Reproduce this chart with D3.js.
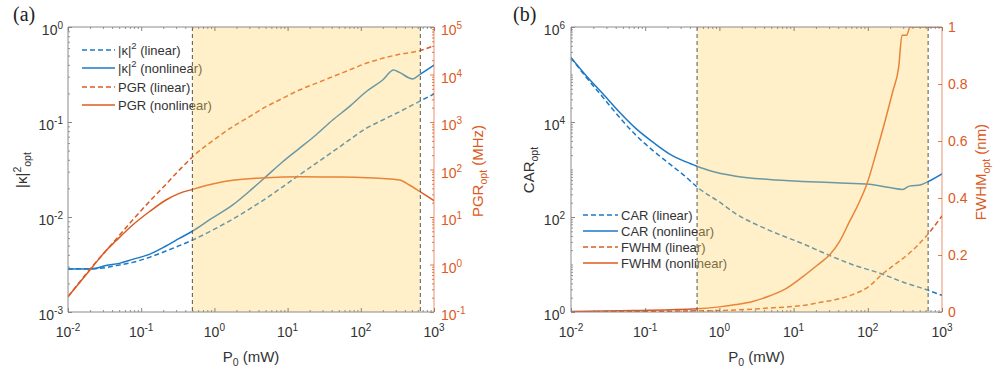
<!DOCTYPE html>
<html lang="en">
<head>
<meta charset="utf-8">
<title>Optimal coupling, PGR, CAR and FWHM vs pump power</title>
<script src="https://cdn.jsdelivr.net/npm/d3@7"></script>
<style>
    body { margin: 0; background: #fff; }
    text { font-family: "Liberation Sans", Arial, sans-serif; }
    text.panel { font-family: "Liberation Serif", "Times New Roman", serif; }
</style>
</head>
<body>
<script>
// ---------- panel (a) data, P0 in mW ----------
var kapLinP = [0.01, 0.0268, 0.0453, 0.0764, 0.129, 0.218, 0.332, 0.505, 1.05, 1.78, 3.0, 5.07, 8.57, 14.5, 24.4, 41.3, 69.7, 118, 199, 336, 644, 1000];
var kapLin  = [0.00284, 0.00288, 0.00308, 0.00333, 0.00376, 0.00438, 0.00499, 0.00573, 0.0076, 0.0095, 0.0121, 0.0157, 0.0208, 0.0277, 0.0367, 0.0487, 0.0647, 0.0858, 0.105, 0.128, 0.166, 0.197];

var kapNlP = [0.01, 0.0217, 0.033, 0.0502, 0.0764, 0.129, 0.218, 0.332, 0.505, 0.853, 1.78, 3.33, 5.07, 8.57, 14.5, 24.4, 41.3, 69.7, 118, 199, 281, 336, 511, 644, 1000];
var kapNl  = [0.00284, 0.00284, 0.00308, 0.00325, 0.00358, 0.00404, 0.00495, 0.00596, 0.00712, 0.0093, 0.0134, 0.0200, 0.0266, 0.0382, 0.0528, 0.0730, 0.105, 0.145, 0.208, 0.277, 0.352, 0.333, 0.284, 0.318, 0.398];

var pgrLinP = [0.01, 0.0217, 0.0367, 0.0764, 0.129, 0.218, 0.332, 0.505, 1.05, 1.78, 3.0, 5.07, 8.57, 14.5, 24.4, 41.3, 69.7, 118, 199, 336, 644, 1000];
var pgrLin  = [0.21, 0.93, 2.34, 8.65, 21.0, 48.8, 97.5, 186, 453, 798, 1290, 2100, 3150, 4720, 6520, 9000, 12400, 17200, 21900, 26600, 31800, 40500];

var pgrNlP = [0.01, 0.0217, 0.033, 0.0453, 0.0764, 0.129, 0.218, 0.332, 0.505, 1.05, 1.78, 5.07, 14.5, 41.3, 118, 336, 460, 644, 1000];
var pgrNl  = [0.21, 0.9, 1.95, 3.16, 6.79, 12.9, 22.8, 31.5, 38.2, 51.2, 59.2, 67.3, 70.6, 69.5, 67.3, 60.1, 47.2, 34.1, 22.1];

// ---------- panel (b) data ----------
var carLinP = [0.01, 0.0159, 0.0267, 0.0448, 0.0752, 0.126, 0.211, 0.355, 0.499, 0.998, 1.67, 4.71, 13.2, 30.3, 62.5, 151, 295, 655, 1000];
var carLin  = [226000, 88500, 33600, 12700, 5240, 2535, 1327, 695, 429, 207, 117, 52.4, 27.5, 15.6, 9.9, 6.41, 4.29, 2.86, 2.24];

var carNlP = [0.01, 0.0159, 0.0267, 0.0448, 0.0752, 0.126, 0.211, 0.355, 0.499, 0.731, 1.67, 4.71, 13.2, 37.2, 105, 195, 295, 363, 521, 655, 1000];
var carNl  = [226000, 95500, 39800, 16200, 7240, 3800, 2140, 1445, 1175, 955, 724, 617, 562, 525, 490, 417, 380, 447, 479, 562, 813];

var fwhmLinP = [0.01, 0.499, 1.67, 4.71, 13.2, 22.2, 37.2, 62.5, 105, 151, 216, 295, 447, 655, 1000];
var fwhmLin  = [0.001, 0.004, 0.007, 0.014, 0.023, 0.033, 0.044, 0.061, 0.091, 0.129, 0.161, 0.187, 0.228, 0.275, 0.337];

var fwhmNlP = [0.01, 0.0752, 0.499, 0.998, 1.67, 2.81, 4.71, 7.91, 13.2, 22.2, 30.3, 41.3, 56.4, 76.9, 97.5, 129, 172, 216, 261, 289, 334, 371, 1000];
var fwhmNl  = [0.002, 0.005, 0.011, 0.018, 0.026, 0.037, 0.056, 0.082, 0.123, 0.170, 0.199, 0.246, 0.316, 0.386, 0.450, 0.556, 0.673, 0.772, 0.860, 0.971, 0.971, 1.0, 1.0];

// shaded power window (mW)
var shadeP = [0.5, 650];

// tick labels
var xExp = [-2, -1, 0, 1, 2, 3];
var kapExp = [-3, -2, -1, 0];
var pgrExp = [-1, 0, 1, 2, 3, 4, 5];
var carExp = [0, 2, 4, 6];
var fwhmTicks = [0, 0.2, 0.4, 0.6, 0.8, 1];

var blue = "#1c79c6", orange = "#dc5a22", shadeCol = "#ffd465", txt = "#333", frameCol = "#8a8a8a";

var svg = d3.select("body").append("svg")
    .attr("width", 996)
    .attr("height", 372);

var pa = {l: 68, r: 434, t: 27, b: 312};
var pb = {l: 571, r: 942, t: 27, b: 312};

var xA = d3.scaleLog().domain([1e-2, 1e3]).range([pa.l, pa.r]);
var yA = d3.scaleLog().domain([1e-3, 1]).range([pa.b, pa.t]);
var yA2 = d3.scaleLog().domain([1e-1, 1e5]).range([pa.b, pa.t]);

var xB = d3.scaleLog().domain([1e-2, 1e3]).range([pb.l, pb.r]);
var yB = d3.scaleLog().domain([1, 1e6]).range([pb.b, pb.t]);
var yB2 = d3.scaleLinear().domain([0, 1]).range([pb.b, pb.t]);

function minorLog(lo, hi) {
    var v = [];
    for (var e = lo; e < hi; e++)
        for (var m = 2; m <= 9; m++) v.push(m * Math.pow(10, e));
    return v;
}

// superscript label like 10^-2
function powText(g, x, y, exp, anchor, color) {
    var t = g.append("text")
        .attr("x", x).attr("y", y)
        .attr("text-anchor", anchor)
        .attr("font-size", 14)
        .attr("fill", color);
    t.append("tspan").text("10");
    t.append("tspan").attr("dy", -6).attr("font-size", 10).text(exp);
    return t;
}

function ticks(g, axisFn, scale, values, size, color, tr) {
    g.append("g")
        .attr("transform", tr)
        .call(axisFn(scale).tickValues(values).tickSize(-size).tickFormat(""))
        .call(function(s) {
            s.select(".domain").remove();
            s.selectAll("text").remove();
            s.selectAll("line").attr("stroke", color).attr("stroke-width", 0.8);
        });
}

function addLine(g, x, y, P, V, color, dashed) {
    var line = d3.line()
        .x(function(d) { return x(d[0]); })
        .y(function(d) { return y(d[1]); })
        .curve(d3.curveMonotoneX);
    g.append("path")
        .datum(d3.zip(P, V))
        .attr("d", line)
        .attr("fill", "none")
        .attr("stroke", color)
        .attr("stroke-width", 1.5)
        .attr("stroke-dasharray", dashed ? "5,3" : null);
}

function legendRow(g, x1, x2, y, color, dashed, label, sup) {
    g.append("line")
        .attr("x1", x1).attr("x2", x2).attr("y1", y).attr("y2", y)
        .attr("stroke", color).attr("stroke-width", 1.5)
        .attr("stroke-dasharray", dashed ? "5,3" : null);
    var t = g.append("text")
        .attr("x", x2 + 3).attr("y", y + 4.5)
        .attr("font-size", 13).attr("fill", txt);
    if (sup) {
        t.append("tspan").text("|\u03BA|");
        t.append("tspan").attr("dy", -6).attr("font-size", 9.5).text("2");
        t.append("tspan").attr("dy", 6).text(" " + label);
    } else {
        t.text(label);
    }
}

function panel(p, id) {
    var g = svg.append("g");
    svg.append("clipPath").attr("id", id)
        .append("rect").attr("x", p.l).attr("y", p.t)
        .attr("width", p.r - p.l).attr("height", p.b - p.t);
    return g;
}

// ================= panel (a) =================
var gA = panel(pa, "clipA");
var linesA = gA.append("g").attr("clip-path", "url(#clipA)");
addLine(linesA, xA, yA, kapLinP, kapLin, blue, true);
addLine(linesA, xA, yA, kapNlP, kapNl, blue, false);
addLine(linesA, xA, yA2, pgrLinP, pgrLin, orange, true);
addLine(linesA, xA, yA2, pgrNlP, pgrNl, orange, false);

legendRow(gA, 82, 115, 50, blue, true, "(linear)", true);
legendRow(gA, 82, 115, 68, blue, false, "(nonlinear)", true);
legendRow(gA, 82, 115, 87, orange, true, "PGR (linear)", false);
legendRow(gA, 82, 115, 105, orange, false, "PGR (nonlinear)", false);

// shaded window drawn over the curves
gA.append("rect")
    .attr("x", xA(shadeP[0])).attr("y", pa.t)
    .attr("width", xA(shadeP[1]) - xA(shadeP[0]))
    .attr("height", pa.b - pa.t)
    .attr("fill", shadeCol).attr("fill-opacity", 0.35);
shadeP.forEach(function(v) {
    gA.append("line")
        .attr("x1", xA(v)).attr("x2", xA(v)).attr("y1", pa.t).attr("y2", pa.b)
        .attr("stroke", "#555").attr("stroke-width", 1).attr("stroke-dasharray", "4,3");
});

// ticks
ticks(gA, d3.axisBottom, xA, xExp.map(function(e) { return Math.pow(10, e); }), 4, "#666", "translate(0," + pa.b + ")");
ticks(gA, d3.axisBottom, xA, minorLog(-2, 3), 2, "#777", "translate(0," + pa.b + ")");
ticks(gA, d3.axisTop, xA, xExp.map(function(e) { return Math.pow(10, e); }), 4, "#666", "translate(0," + pa.t + ")");
ticks(gA, d3.axisTop, xA, minorLog(-2, 3), 2, "#777", "translate(0," + pa.t + ")");
ticks(gA, d3.axisLeft, yA, kapExp.map(function(e) { return Math.pow(10, e); }), 4, "#666", "translate(" + pa.l + ",0)");
ticks(gA, d3.axisLeft, yA, minorLog(-3, 0), 2, "#777", "translate(" + pa.l + ",0)");
ticks(gA, d3.axisRight, yA2, pgrExp.map(function(e) { return Math.pow(10, e); }), 4, orange, "translate(" + pa.r + ",0)");
ticks(gA, d3.axisRight, yA2, minorLog(-1, 5), 2, orange, "translate(" + pa.r + ",0)");

// frame
gA.append("path")
    .attr("d", "M" + pa.r + "," + pa.t + "H" + pa.l + "V" + pa.b + "H" + pa.r)
    .attr("fill", "none").attr("stroke", frameCol).attr("stroke-width", 1);
gA.append("line")
    .attr("x1", pa.r).attr("x2", pa.r).attr("y1", pa.t).attr("y2", pa.b)
    .attr("stroke", orange).attr("stroke-opacity", 0.55).attr("stroke-width", 1.2);

// tick labels
xExp.forEach(function(e) { powText(gA, xA(Math.pow(10, e)), pa.b + 25, e, "middle", txt); });
kapExp.forEach(function(e) { powText(gA, pa.l - 5, yA(Math.pow(10, e)) + 8, e, "end", txt); });
pgrExp.forEach(function(e) { powText(gA, pa.r + 7, yA2(Math.pow(10, e)) + 8, e, "start", orange); });

// axis titles
var xtA = gA.append("text")
    .attr("x", (pa.l + pa.r) / 2).attr("y", 362)
    .attr("text-anchor", "middle").attr("font-size", 15).attr("fill", txt);
xtA.append("tspan").text("P");
xtA.append("tspan").attr("dy", 4).attr("font-size", 10.5).text("0");
xtA.append("tspan").attr("dy", -4).text(" (mW)");

var ytA = gA.append("text")
    .attr("transform", "translate(27,170) rotate(-90)")
    .attr("text-anchor", "middle").attr("font-size", 15).attr("fill", txt);
ytA.append("tspan").text("|\u03BA|");
ytA.append("tspan").attr("dy", -6).attr("font-size", 10.5).text("2");
ytA.append("tspan").attr("dy", 10).attr("font-size", 10.5).text("opt");

var yt2A = gA.append("text")
    .attr("transform", "translate(483,171) rotate(-90)")
    .attr("text-anchor", "middle").attr("font-size", 15).attr("fill", orange);
yt2A.append("tspan").text("PGR");
yt2A.append("tspan").attr("dy", 4).attr("font-size", 10.5).text("opt");
yt2A.append("tspan").attr("dy", -4).text(" (MHz)");

svg.append("text").attr("class", "panel").attr("x", 13).attr("y", 21)
    .attr("font-size", 20).attr("fill", "#222").text("(a)");

// ================= panel (b) =================
var gB = panel(pb, "clipB");
var linesB = gB.append("g").attr("clip-path", "url(#clipB)");
addLine(linesB, xB, yB, carLinP, carLin, blue, true);
addLine(linesB, xB, yB, carNlP, carNl, blue, false);
addLine(linesB, xB, yB2, fwhmLinP, fwhmLin, orange, true);
addLine(linesB, xB, yB2, fwhmNlP, fwhmNl, orange, false);

legendRow(gB, 583, 618, 215, blue, true, "CAR (linear)", false);
legendRow(gB, 583, 618, 231, blue, false, "CAR (nonlinear)", false);
legendRow(gB, 583, 618, 247, orange, true, "FWHM (linear)", false);
legendRow(gB, 583, 618, 263, orange, false, "FWHM (nonlinear)", false);

gB.append("rect")
    .attr("x", xB(shadeP[0])).attr("y", pb.t)
    .attr("width", xB(shadeP[1]) - xB(shadeP[0]))
    .attr("height", pb.b - pb.t)
    .attr("fill", shadeCol).attr("fill-opacity", 0.35);
shadeP.forEach(function(v) {
    gB.append("line")
        .attr("x1", xB(v)).attr("x2", xB(v)).attr("y1", pb.t).attr("y2", pb.b)
        .attr("stroke", "#555").attr("stroke-width", 1).attr("stroke-dasharray", "4,3");
});

ticks(gB, d3.axisBottom, xB, xExp.map(function(e) { return Math.pow(10, e); }), 4, "#666", "translate(0," + pb.b + ")");
ticks(gB, d3.axisBottom, xB, minorLog(-2, 3), 2, "#777", "translate(0," + pb.b + ")");
ticks(gB, d3.axisTop, xB, xExp.map(function(e) { return Math.pow(10, e); }), 4, "#666", "translate(0," + pb.t + ")");
ticks(gB, d3.axisTop, xB, minorLog(-2, 3), 2, "#777", "translate(0," + pb.t + ")");
ticks(gB, d3.axisLeft, yB, carExp.map(function(e) { return Math.pow(10, e); }), 4, "#666", "translate(" + pb.l + ",0)");
ticks(gB, d3.axisLeft, yB, minorLog(0, 6).concat([10, 1000, 100000]), 2, "#777", "translate(" + pb.l + ",0)");
ticks(gB, d3.axisRight, yB2, fwhmTicks, 4, orange, "translate(" + pb.r + ",0)");

gB.append("path")
    .attr("d", "M" + pb.r + "," + pb.t + "H" + pb.l + "V" + pb.b + "H" + pb.r)
    .attr("fill", "none").attr("stroke", frameCol).attr("stroke-width", 1);
gB.append("line")
    .attr("x1", pb.r).attr("x2", pb.r).attr("y1", pb.t).attr("y2", pb.b)
    .attr("stroke", orange).attr("stroke-opacity", 0.55).attr("stroke-width", 1.2);

xExp.forEach(function(e) { powText(gB, xB(Math.pow(10, e)), pb.b + 25, e, "middle", txt); });
carExp.forEach(function(e) { powText(gB, pb.l - 6, yB(Math.pow(10, e)) + 8, e, "end", txt); });
fwhmTicks.forEach(function(v) {
    gB.append("text")
        .attr("x", pb.r + 6).attr("y", yB2(v) + 5)
        .attr("font-size", 14).attr("fill", orange)
        .text(d3.format("~g")(v));
});

var xtB = gB.append("text")
    .attr("x", (pb.l + pb.r) / 2).attr("y", 362)
    .attr("text-anchor", "middle").attr("font-size", 15).attr("fill", txt);
xtB.append("tspan").text("P");
xtB.append("tspan").attr("dy", 4).attr("font-size", 10.5).text("0");
xtB.append("tspan").attr("dy", -4).text(" (mW)");

var ytB = gB.append("text")
    .attr("transform", "translate(534,170) rotate(-90)")
    .attr("text-anchor", "middle").attr("font-size", 15).attr("fill", txt);
ytB.append("tspan").text("CAR");
ytB.append("tspan").attr("dy", 4).attr("font-size", 10.5).text("opt");

var yt2B = gB.append("text")
    .attr("transform", "translate(986,172) rotate(-90)")
    .attr("text-anchor", "middle").attr("font-size", 15).attr("fill", orange);
yt2B.append("tspan").text("FWHM");
yt2B.append("tspan").attr("dy", 4).attr("font-size", 10.5).text("opt");
yt2B.append("tspan").attr("dy", -4).text(" (nm)");

svg.append("text").attr("class", "panel").attr("x", 513).attr("y", 21)
    .attr("font-size", 20).attr("fill", "#222").text("(b)");
</script>
</body>
</html>
